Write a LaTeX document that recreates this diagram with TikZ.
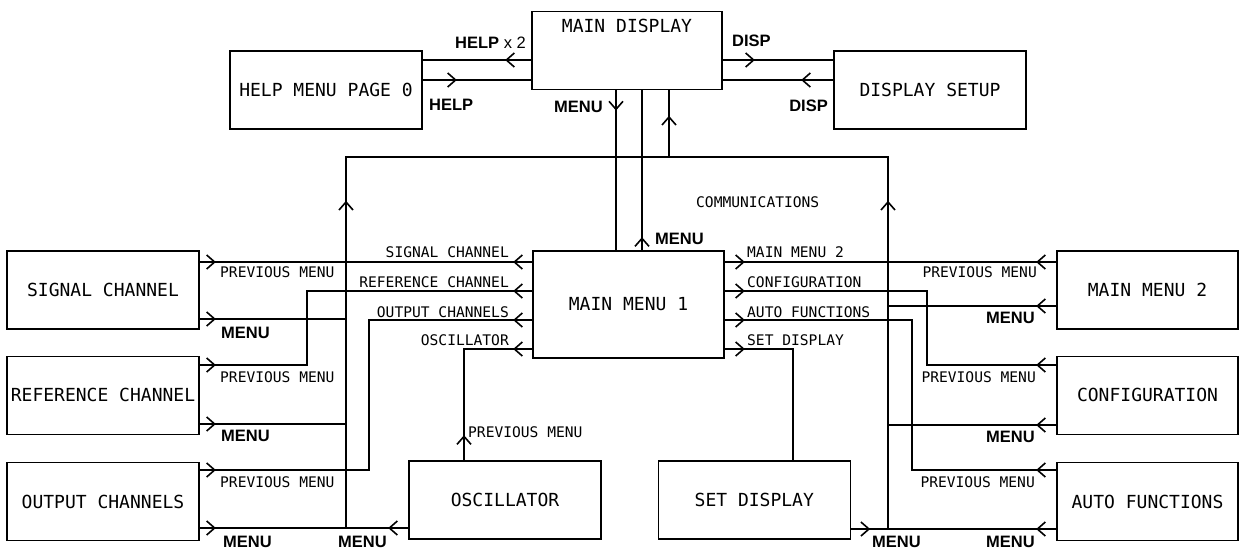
\documentclass[tikz,border=0pt]{standalone}
\usepackage{fontspec}
\usepackage{tikz}
\usetikzlibrary{arrows.meta,positioning,decorations.markings}
\newfontfamily\monofont{DejaVu Sans Mono}
\newfontfamily\keyfont{Liberation Sans}

\tikzset{
  box/.style={draw, line width=1.3pt, minimum width=192pt, minimum height=78pt,
    inner sep=0pt, font=\monofont\fontsize{18}{20}\selectfont},
  link/.style={line width=1.3pt},
  tipat/.style={postaction={decorate,decoration={markings,
    mark=at position #1 with {\draw[line width=1.6pt] (-8pt,7pt) -- (0pt,0pt) -- (-8pt,-7pt);}}}},
  tipback/.style={postaction={decorate,decoration={markings,
    mark=at position #1 with {\draw[line width=1.6pt] (8pt,7pt) -- (0pt,0pt) -- (8pt,-7pt);}}}},
  lbl/.style={inner sep=0pt, font=\monofont\fontsize{14.6}{16}\selectfont},
  key/.style={inner sep=0pt, font=\keyfont\bfseries\fontsize{16.5}{18}\selectfont},
}

\begin{document}
\begin{tikzpicture}[x=1pt,y=-1pt]
\useasboundingbox (0,0) rectangle (1240,552);
% boxes
\node (maindisp) [box, minimum width=190pt, text height=13pt, text depth=50pt, anchor=north] at (627,11) {MAIN DISPLAY};
\node (help) [box] at (326,90) {HELP MENU PAGE 0};
\node (dispset) [box] at (930,90) {DISPLAY SETUP};
\node (mm1) [box, minimum width=191pt, minimum height=107pt] at (628.5,304.5) {MAIN MENU 1};
\node (sig) [box] at (103,290) {SIGNAL CHANNEL};
\node (ref) [box, below=26pt of sig] {REFERENCE CHANNEL};
\node (out) [box, below=27pt of ref] {OUTPUT CHANNELS};
\node (osc) [box] at (505,500) {OSCILLATOR};
\node (setd) [box, right=56pt of osc] {SET DISPLAY};
\node (mm2) [box, minimum width=181pt] at (1147.5,290) {MAIN MENU 2};
\node (conf) [box, minimum width=181pt, below=26pt of mm2] {CONFIGURATION};
\node (auto) [box, minimum width=181pt, below=27pt of conf] {AUTO FUNCTIONS};

% top links
\draw[link, tipat=25pt] (maindisp.west |- 0,60) -- (help.east |- 0,60);
\draw[link, tipat=33pt] (help.east |- 0,80) -- (maindisp.west |- 0,80);
\draw[link, tipat=31pt] (maindisp.east |- 0,60) -- (dispset.west |- 0,60);
\draw[link, tipat=31pt] (dispset.west |- 0,80) -- (maindisp.east |- 0,80);
\draw[link, tipat=19pt] (maindisp.south -| 616,0) -- (mm1.north -| 616,0);
\draw[link, tipat=12pt] (mm1.north -| 642,0) -- (maindisp.south -| 642,0);

% communications bus
\coordinate (busbl) at (346,528);
\coordinate (bustl) at (346,157);
\coordinate (bustr) at (888,157);
\coordinate (busbr) at (888,529);
\draw[link, tipat=326pt, tipback=-327pt] (busbl) -- (bustl) -- (bustr) -- (busbr);
\draw[link, tipat=40pt] (bustl -| 669,0) -- (maindisp.south -| 669,0);

% left side
\draw[link, tipat=15pt, tipback=-18pt] (sig.east |- 0,262) -- (mm1.west |- 0,262);
\draw[link, tipat=15pt] (sig.east |- 0,319) -- (busbl |- 0,319);
\draw[link, tipat=15pt, tipback=-18pt] (ref.east |- 0,365) -| (307,291) -- (mm1.west |- 0,291);
\draw[link, tipat=15pt] (ref.east |- 0,424) -- (busbl |- 0,424);
\draw[link, tipat=15pt, tipback=-18pt] (out.east |- 0,470) -| (369,320) -- (mm1.west |- 0,320);
\draw[link, tipat=15pt, tipback=-19pt] (out.east |- 0,528) -- (osc.west |- 0,528);
\draw[link, tipat=24pt, tipback=-18pt] (osc.north -| 464,0) |- (mm1.west |- 0,349);

% right side
\draw[link, tipat=19pt, tipback=-19pt] (mm2.west |- 0,262) -- (mm1.east |- 0,262);
\draw[link, tipat=19pt] (mm2.west |- 0,306) -- (busbr |- 0,306);
\draw[link, tipat=19pt, tipback=-19pt] (conf.west |- 0,365) -| (927,291) -- (mm1.east |- 0,291);
\draw[link, tipat=19pt] (conf.west |- 0,425) -- (busbr |- 0,425);
\draw[link, tipat=19pt, tipback=-19pt] (auto.west |- 0,470) -| (912,320) -- (mm1.east |- 0,320);
\draw[link, tipat=19pt, tipback=-18pt] (auto.west |- 0,529) -- (setd.east |- 0,529);
\draw[link, tipback=-19pt] (setd.north -| 793,0) |- (mm1.east |- 0,349);

% key labels
\node (lhelptwo) [key, anchor=base east] at (526,48) {HELP \textmd{x 2}};
\node (lhelp) [key, anchor=base west] at (429,110) {HELP};
\node (ldispa) [key, anchor=base west] at (732,46) {DISP};
\node (ldispb) [key, anchor=base east] at (828,111) {DISP};
\node (lmenudn) [key, anchor=base east] at (603,112) {MENU};
\node (lmenuup) [key, anchor=base west] at (655,244) {MENU};
\node (lcomm) [lbl, anchor=base west] at (696,207) {COMMUNICATIONS};

% left labels
\node (lsigch) [lbl, anchor=base east] at (509,257) {SIGNAL CHANNEL};
\node (lrefch) [lbl, anchor=base east] at (509,287) {REFERENCE CHANNEL};
\node (loutch) [lbl, anchor=base east] at (509,317) {OUTPUT CHANNELS};
\node (loscil) [lbl, anchor=base east] at (509,345) {OSCILLATOR};
\node (lsigprev) [lbl, anchor=base west] at (220,277) {PREVIOUS MENU};
\node (lrefprev) [lbl, anchor=base west] at (220,382) {PREVIOUS MENU};
\node (loutprev) [lbl, anchor=base west] at (220,487) {PREVIOUS MENU};
\node (loscprev) [lbl, anchor=base west] at (468,437) {PREVIOUS MENU};
\node (lsigmenu) [key, anchor=base west] at (221,338) {MENU};
\node (lrefmenu) [key, anchor=base west] at (221,441) {MENU};
\node (loutmenu) [key, anchor=base west] at (223,547) {MENU};
\node (loscmenu) [key, anchor=base east] at (387,547) {MENU};

% right labels
\node (lmmtwo) [lbl, anchor=base west] at (747,257) {MAIN MENU 2};
\node (lconf) [lbl, anchor=base west] at (747,287) {CONFIGURATION};
\node (lauto) [lbl, anchor=base west] at (747,317) {AUTO FUNCTIONS};
\node (lsetd) [lbl, anchor=base west] at (747,345) {SET DISPLAY};
\node (lmmtwoprev) [lbl, anchor=base east] at (1037,277) {PREVIOUS MENU};
\node (lconfprev) [lbl, anchor=base east] at (1036,382) {PREVIOUS MENU};
\node (lautoprev) [lbl, anchor=base east] at (1035,487) {PREVIOUS MENU};
\node (lmmtwomenu) [key, anchor=base east] at (1035,323) {MENU};
\node (lconfmenu) [key, anchor=base east] at (1035,442) {MENU};
\node (lautomenu) [key, anchor=base east] at (1035,547) {MENU};
\node (lsetdmenu) [key, anchor=base west] at (872,547) {MENU};
\end{tikzpicture}
\end{document}
